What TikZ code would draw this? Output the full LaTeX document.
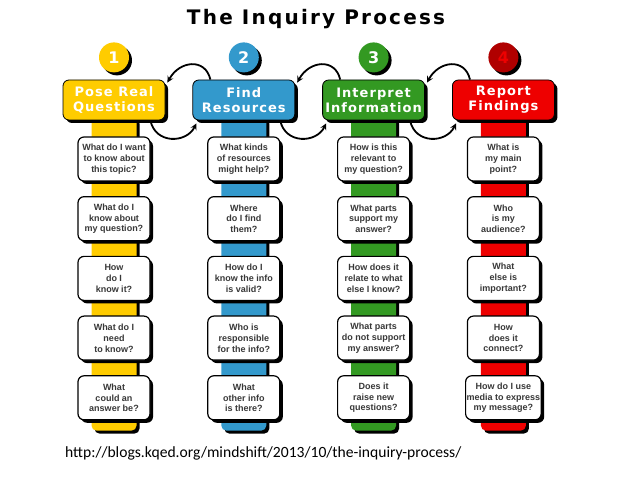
\documentclass[tikz,border=0pt]{standalone}
\usepackage{fontspec}
\newfontfamily\titlefont[LetterSpace=11]{DejaVu Sans}
\newfontfamily\headfont[LetterSpace=8]{DejaVu Sans}
\newfontfamily\askfont{Liberation Sans}
\newfontfamily\linkfont{Carlito}
\usetikzlibrary{positioning, shadows, backgrounds, arrows}
\definecolor{poseyellow}{HTML}{FFCC00}
\definecolor{findblue}{HTML}{3399CC}
\definecolor{interpgreen}{HTML}{339922}
\definecolor{reportred}{HTML}{EE0000}
\definecolor{darkred}{HTML}{B00000}
\definecolor{askgray}{HTML}{383838}
\tikzset{
x=1pt, y=1pt,
>=stealth, % bold arrow heads
dark shadow/.style={drop shadow={shadow xshift=3pt, shadow yshift=-3pt, opacity=1, fill=black}},
header/.style={draw=black, line width=0.8pt, rounded corners=6pt, minimum width=102pt, minimum height=40pt,
  inner sep=0pt, align=center, text=white, font=\headfont\bfseries\fontsize{13}{15}\selectfont, dark shadow},
number/.style={circle, minimum size=30pt, inner sep=0pt, text=white,
  font=\headfont\bfseries\fontsize{16}{16}\selectfont, dark shadow},
ask/.style={draw=black, line width=1.2pt, fill=white, rounded corners=6pt, minimum width=72pt, minimum height=44pt,
  inner sep=1pt, align=center, text=askgray, font=\askfont\bfseries\fontsize{9}{10.8}\selectfont, dark shadow},
strip/.style={minimum width=45pt, minimum height=315pt, inner sep=0pt, rounded corners=5pt, dark shadow},
cycle arrow/.style={->, line width=1.8pt},
}
\begin{document}
\begin{tikzpicture}
\useasboundingbox (0,0) rectangle (638,479);

\node[anchor=base, font=\titlefont\bfseries\fontsize{20}{24}\selectfont] (title) at (316,454) {The Inquiry Process};

% the four steps
\node[header, fill=poseyellow] (h1) at (114,379) {Pose Real\\Questions};
\node[header, fill=findblue, right=27pt of h1] (h2) {Find\\Resources};
\node[header, fill=interpgreen, right=27pt of h2] (h3) {Interpret\\Information};
\node[header, fill=reportred, right=27pt of h3] (h4) {Report\\Findings};

\node[number, fill=poseyellow, above=7pt of h1] (n1) {1};
\node[number, fill=findblue, above=7pt of h2] (n2) {2};
\node[number, fill=interpgreen, above=7pt of h3] (n3) {3};
\node[number, fill=darkred, text=reportred, above=7pt of h4] (n4) {4};

% coloured strips behind the questions
\begin{scope}[on background layer]
\node[strip, fill=poseyellow, below=-5pt of h1] (s1) {};
\node[strip, fill=findblue, below=-5pt of h2] (s2) {};
\node[strip, fill=interpgreen, below=-5pt of h3] (s3) {};
\node[strip, fill=reportred, below=-5pt of h4] (s4) {};
\end{scope}

% questions, step 1
\node[ask, below=16pt of h1] (q11) {What do I want\\to know about\\this topic?};
\node[ask, below=14.5pt of q11] (q12) {What do I\\know about\\my question?};
\node[ask, below=14.5pt of q12] (q13) {How\\do I\\know it?};
\node[ask, below=14.5pt of q13] (q14) {What do I\\need\\to know?};
\node[ask, below=14.5pt of q14] (q15) {What\\could an\\answer be?};

% questions, step 2
\node[ask, below=16pt of h2] (q21) {What kinds\\of resources\\might help?};
\node[ask, below=14.5pt of q21] (q22) {Where\\do I find\\them?};
\node[ask, below=14.5pt of q22] (q23) {How do I\\know the info\\is valid?};
\node[ask, below=14.5pt of q23] (q24) {Who is\\responsible\\for the info?};
\node[ask, below=14.5pt of q24] (q25) {What\\other info\\is there?};

% questions, step 3
\node[ask, below=16pt of h3] (q31) {How is this\\relevant to\\my question?};
\node[ask, below=14.5pt of q31] (q32) {What parts\\support my\\answer?};
\node[ask, below=14.5pt of q32] (q33) {How does it\\relate to what\\else I know?};
\node[ask, below=14.5pt of q33] (q34) {What parts\\do not support\\my answer?};
\node[ask, below=14.5pt of q34] (q35) {Does it\\raise new\\questions?};

% questions, step 4
\node[ask, below=16pt of h4] (q41) {What is\\my main\\point?};
\node[ask, below=14.5pt of q41] (q42) {Who\\is my\\audience?};
\node[ask, below=14.5pt of q42] (q43) {What\\else is\\important?};
\node[ask, below=14.5pt of q43] (q44) {How\\does it\\connect?};
\node[ask, below=14.5pt of q44] (q45) {How do I use\\media to express\\my message?};

% back and forth between the steps
\draw[cycle arrow] ([xshift=18pt]h2.north west) .. controls +(-5,22) and +(12,22) .. ([shift={(2,-3)}]h1.north east);
\draw[cycle arrow] ([xshift=-15pt]h1.south east) .. controls +(5,-24) and +(-10,-20) .. ([shift={(4,-3)}]h2.south west);
\draw[cycle arrow] ([xshift=18pt]h3.north west) .. controls +(-5,22) and +(12,22) .. ([shift={(2,-3)}]h2.north east);
\draw[cycle arrow] ([xshift=-15pt]h2.south east) .. controls +(5,-24) and +(-10,-20) .. ([shift={(4,-3)}]h3.south west);
\draw[cycle arrow] ([xshift=18pt]h4.north west) .. controls +(-5,22) and +(12,22) .. ([shift={(2,-3)}]h3.north east);
\draw[cycle arrow] ([xshift=-15pt]h3.south east) .. controls +(5,-24) and +(-10,-20) .. ([shift={(4,-3)}]h4.south west);

\node[anchor=base west, inner sep=0pt, font=\linkfont\fontsize{15.6}{18}\selectfont] (link) at (65,21)
  {http://blogs.kqed.org/mindshift/2013/10/the-inquiry-process/};
\end{tikzpicture}
\end{document}
